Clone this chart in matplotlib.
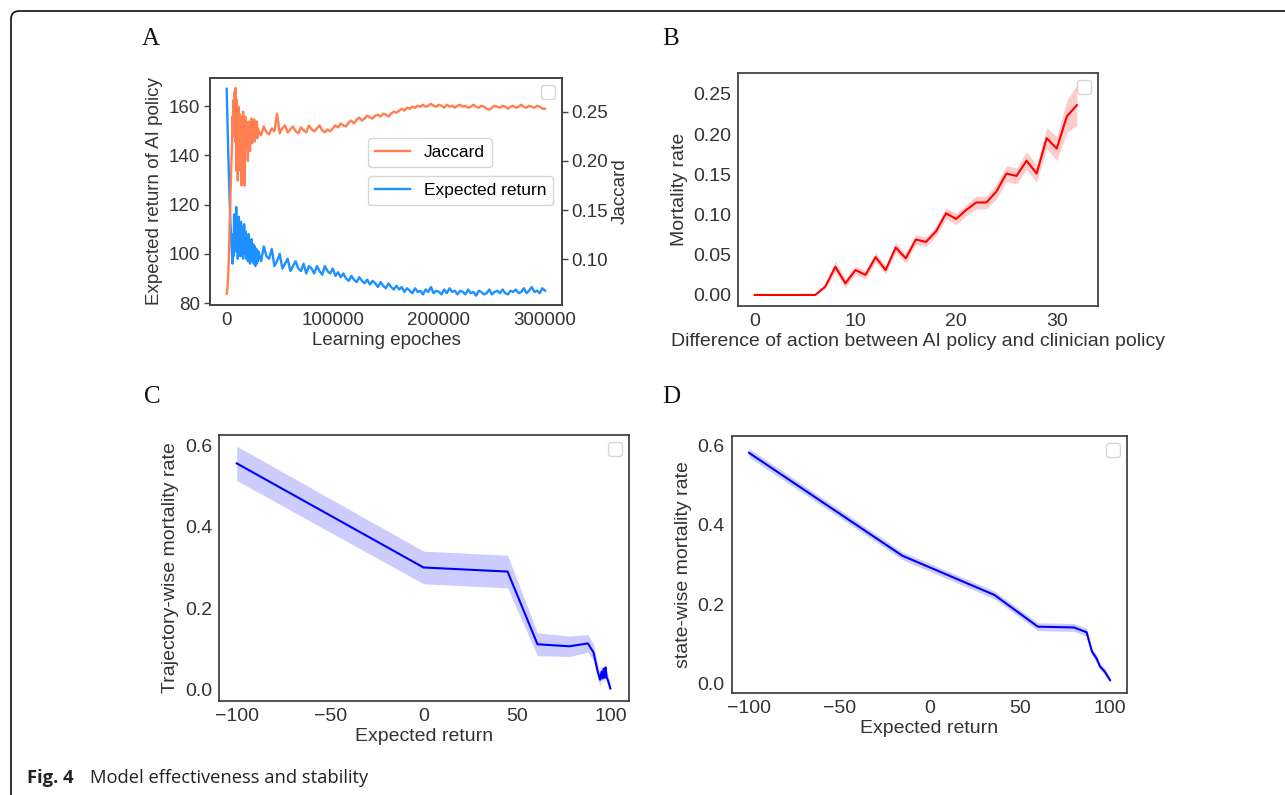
""" Fig. 4 - model effectiveness and stability """
import numpy as np
import matplotlib
matplotlib.use("Agg")
from matplotlib import pyplot as plt
from matplotlib.patches import FancyBboxPatch
from matplotlib.transforms import IdentityTransform

# ---- panel A: learning curves (early part every 500 epochs, then every 2500) ----
return_early = [167, 158, 149, 141, 133, 126, 119, 113, 108, 104, 100, 96, 108, 99, 116, 104,
                110, 101, 119, 106, 113, 98, 109, 115, 103, 108, 99, 113, 105, 101, 111, 98,
                107, 112, 100, 104, 109, 98, 106, 102, 97, 108, 101, 105, 96, 103, 99, 106,
                97, 101, 104, 96, 100, 103, 95, 99, 102, 96, 100, 97]
return_late = [101, 97, 103, 99, 98, 102, 95, 97, 100, 94, 96, 98, 93, 95, 97, 94, 93, 96, 92,
               95, 94, 92, 95, 93, 91.5, 95, 93, 92, 94, 91, 92.5, 90.5, 92, 90, 89, 91, 89.5,
               88.5, 90.5, 89, 88, 89.5, 87.5, 89, 88, 86.5, 88.5, 87, 86, 88, 86.5, 85.5, 87,
               85.5, 86.5, 84.5, 86, 85, 84, 86, 84.5, 85, 83.5, 85.5, 84.5, 86.5, 84, 85, 84.5,
               83.5, 85.5, 84, 86, 84.5, 85, 83.5, 85, 84.5, 83.5, 85.5, 84, 84.5, 83, 85, 84.5,
               83.5, 84, 85.5, 83.5, 84.5, 85, 84, 85.5, 84, 83.5, 85, 84.5, 85.5, 84, 84.5, 86,
               84, 85, 86.5, 84.5, 85, 84, 86, 85]
jaccard_early = [0.065, 0.068, 0.075, 0.085, 0.10, 0.12, 0.14, 0.16, 0.18, 0.20, 0.215, 0.245,
                 0.225, 0.262, 0.235, 0.27, 0.22, 0.274, 0.19, 0.262, 0.24, 0.18, 0.255, 0.21,
                 0.248, 0.232, 0.19, 0.245, 0.175, 0.24, 0.226, 0.25, 0.20, 0.238, 0.175, 0.245,
                 0.228, 0.215, 0.236, 0.222, 0.20, 0.24, 0.229, 0.235, 0.21, 0.238, 0.222, 0.243,
                 0.218, 0.235, 0.231, 0.225, 0.242, 0.22, 0.232, 0.237, 0.226, 0.24, 0.223, 0.233]
jaccard_late = [0.231, 0.226, 0.235, 0.229, 0.227, 0.233, 0.230, 0.248, 0.228, 0.233, 0.236,
                0.229, 0.232, 0.235, 0.230, 0.228, 0.234, 0.231, 0.229, 0.236, 0.232, 0.230,
                0.233, 0.236, 0.231, 0.229, 0.232, 0.230, 0.233, 0.236, 0.234, 0.238, 0.236,
                0.235, 0.239, 0.241, 0.238, 0.242, 0.244, 0.241, 0.243, 0.246, 0.244, 0.243,
                0.246, 0.247, 0.245, 0.248, 0.247, 0.245, 0.248, 0.250, 0.249, 0.251, 0.253,
                0.251, 0.254, 0.253, 0.255, 0.254, 0.256, 0.255, 0.257, 0.255, 0.256, 0.258,
                0.256, 0.255, 0.257, 0.256, 0.254, 0.257, 0.255, 0.256, 0.254, 0.256, 0.257,
                0.255, 0.256, 0.254, 0.255, 0.257, 0.255, 0.254, 0.256, 0.255, 0.253, 0.252,
                0.254, 0.256, 0.255, 0.254, 0.256, 0.255, 0.253, 0.255, 0.256, 0.254, 0.255,
                0.257, 0.255, 0.254, 0.256, 0.255, 0.254, 0.256, 0.255, 0.253, 0.253]

# ---- panel B: mortality vs action difference ----
diff_action = list(range(33))
mort_b = [0, 0, 0, 0, 0, 0, 0, 0.0104, 0.035, 0.0145, 0.031, 0.025, 0.047, 0.031, 0.059, 0.0456,
          0.069, 0.066, 0.079, 0.1016, 0.0945, 0.1057, 0.115, 0.115, 0.1285, 0.151, 0.148,
          0.167, 0.151, 0.195, 0.182, 0.222, 0.236]
ci_b = [0, 0, 0, 0, 0, 0, 0, 0.003, 0.007, 0.005, 0.005, 0.005, 0.006, 0.005, 0.006, 0.006,
        0.006, 0.006, 0.006, 0.007, 0.007, 0.007, 0.008, 0.008, 0.009, 0.010, 0.010, 0.011,
        0.011, 0.013, 0.015, 0.020, 0.025]

# ---- panel C: trajectory-wise mortality ----
ret_c = [-100, 0, 45, 61, 78, 88, 91, 93, 94.5, 95.3, 95.8, 96.4, 97, 97.5, 98, 99, 100]
mort_c = [0.555, 0.300, 0.290, 0.112, 0.107, 0.114, 0.092, 0.05, 0.025, 0.045, 0.028, 0.052,
          0.03, 0.055, 0.032, 0.02, 0.004]
ci_c = [0.042, 0.04, 0.04, 0.028, 0.025, 0.022, 0.02, 0.018, 0.016, 0.016, 0.015, 0.015, 0.014,
        0.014, 0.013, 0.012, 0.008]

# ---- panel D: state-wise mortality ----
ret_d = [-100, -15, 0, 36, 60, 80, 87, 90, 92.5, 94.5, 96, 97, 100]
mort_d = [0.582, 0.322, 0.293, 0.223, 0.143, 0.141, 0.129, 0.08, 0.063, 0.042, 0.035, 0.03, 0.008]
ci_d = [0.011, 0.01, 0.01, 0.01, 0.01, 0.01, 0.01, 0.009, 0.009, 0.008, 0.008, 0.008, 0.006]


plt.rcParams['font.family'] = ['Liberation Sans', 'DejaVu Sans']
plt.rcParams['axes.edgecolor'] = '#444444'
plt.rcParams['axes.linewidth'] = 1.3
plt.rcParams['xtick.color'] = '#333333'
plt.rcParams['ytick.color'] = '#333333'
plt.rcParams['axes.labelcolor'] = '#333333'
plt.rcParams['legend.edgecolor'] = '#cccccc'

fig = plt.figure(figsize=(12.85, 7.95), dpi=100)
W, H = 1285.0, 795.0


def add_ax(left, top, right, bottom):
	return fig.add_axes([left / W, 1 - bottom / H, (right - left) / W, (bottom - top) / H])


def empty_legend(ax):
	ax.legend(handles=[], loc='upper right', borderpad=0.5, fancybox=True)


def style_ax(ax, fs):
	ax.tick_params(length=0, labelsize=fs, pad=5)


# panel A
axA = add_ax(210, 78, 562, 305)
x_early = 500 * np.arange(len(return_early))
x_late = 30000 + 2500 * np.arange(len(return_late))
xj_early = 500 * np.arange(len(jaccard_early))
xj_late = 30000 + 2500 * np.arange(len(jaccard_late))
l_ret, = axA.plot(np.concatenate([x_early, x_late]), return_early + return_late,
                  color='#1e90ff', lw=1.7, label='Expected return')
axA.set_xlim(-15700, 316000)
axA.set_ylim(79.2, 171.4)
axA.set_yticks([80, 100, 120, 140, 160])
axA.set_xticks([0, 100000, 200000, 300000])
axA.set_xlabel('Learning epoches', fontsize=13.5, labelpad=2)
axA.set_ylabel('Expected return of AI policy', fontsize=13.5)
axA.tick_params(axis='x', length=0, labelsize=13.5, pad=5)
axA.tick_params(axis='y', length=4, width=1, labelsize=13.5, pad=3, color='#444444')

axA2 = axA.twinx()
l_jac, = axA2.plot(np.concatenate([xj_early, xj_late]), jaccard_early + jaccard_late,
                   color='#ff7f50', lw=1.7, label='Jaccard')
axA2.set_ylim(0.0536, 0.2842)
axA2.set_yticks([0.10, 0.15, 0.20, 0.25])
axA2.set_yticklabels(['0.10', '0.15', '0.20', '0.25'])
axA2.set_ylabel('Jaccard', fontsize=13.5, labelpad=2)
axA2.tick_params(axis='y', length=4, width=1, labelsize=13.5, pad=3, color='#444444')
for s in axA2.spines.values():
	s.set_edgecolor('#444444')

leg1 = axA2.legend(handles=[l_jac], loc='upper left', bbox_to_anchor=(0.449, 0.735),
                   fontsize=12.5, borderaxespad=0)
axA2.add_artist(leg1)
leg2 = axA2.legend(handles=[l_ret], loc='upper left', bbox_to_anchor=(0.449, 0.568),
                   fontsize=12.5, borderaxespad=0)
axA2.add_artist(leg2)
empty_legend(axA2)

# panel B
axB = add_ax(738, 73, 1098, 306)
lo_b = np.array(mort_b) - np.array(ci_b)
hi_b = np.array(mort_b) + np.array(ci_b)
axB.fill_between(diff_action, lo_b, hi_b, color='red', alpha=0.2, lw=0)
axB.plot(diff_action, mort_b, color='red', lw=1.5)
axB.set_xlim(-1.67, 34.1)
axB.set_ylim(-0.0137, 0.276)
axB.set_xticks([0, 10, 20, 30])
axB.set_yticks([0, 0.05, 0.10, 0.15, 0.20, 0.25])
axB.set_yticklabels(['0.00', '0.05', '0.10', '0.15', '0.20', '0.25'])
axB.set_xlabel('Difference of action between AI policy and clinician policy', fontsize=14, labelpad=2)
axB.set_ylabel('Mortality rate', fontsize=14)
style_ax(axB, 14)
empty_legend(axB)

# panel C
axC = add_ax(219, 435, 629, 701)
lo_c = np.array(mort_c) - np.array(ci_c)
hi_c = np.array(mort_c) + np.array(ci_c)
axC.fill_between(ret_c, lo_c, hi_c, color='blue', alpha=0.2, lw=0)
axC.plot(ret_c, mort_c, color='blue', lw=1.5)
axC.set_xlim(-109.5, 110)
axC.set_ylim(-0.027, 0.6245)
axC.set_xticks([-100, -50, 0, 50, 100])
axC.set_yticks([0.0, 0.2, 0.4, 0.6])
axC.set_xlabel('Expected return', fontsize=14, labelpad=2)
axC.set_ylabel('Trajectory-wise mortality rate', fontsize=14)
style_ax(axC, 14)
empty_legend(axC)

# panel D
axD = add_ax(731.7, 436, 1127, 693)
lo_d = np.array(mort_d) - np.array(ci_d)
hi_d = np.array(mort_d) + np.array(ci_d)
axD.fill_between(ret_d, lo_d, hi_d, color='blue', alpha=0.2, lw=0)
axD.plot(ret_d, mort_d, color='blue', lw=1.5)
axD.set_xlim(-109.6, 109.4)
axD.set_ylim(-0.0245, 0.6245)
axD.set_xticks([-100, -50, 0, 50, 100])
axD.set_yticks([0.0, 0.2, 0.4, 0.6])
axD.set_xlabel('Expected return', fontsize=14, labelpad=2)
axD.set_ylabel('state-wise mortality rate', fontsize=14)
style_ax(axD, 14)
empty_legend(axD)

# panel letters
for lab, px, py in [('A', 142, 39), ('B', 662, 39), ('C', 144, 397), ('D', 662, 397)]:
	fig.text(px / W, 1 - py / H, lab, family=['Liberation Serif', 'DejaVu Serif'],
	         fontsize=18, va='center', ha='left', color='#111111')

# caption
fig.text(27 / W, 1 - 778 / H, 'Fig. 4', family=['Open Sans', 'DejaVu Sans'],
         fontweight='bold', fontsize=13.2, va='center', ha='left', color='#222222')
fig.text(90 / W, 1 - 778 / H, 'Model effectiveness and stability', family=['Open Sans', 'DejaVu Sans'],
         fontsize=13.2, va='center', ha='left', color='#222222')

# page frame with rounded corner
frame = FancyBboxPatch((11, -40), 1400, H - 11 + 40, boxstyle='round,pad=0,rounding_size=8',
                       transform=IdentityTransform(), fill=False, lw=1.3, ec='#222222')
fig.add_artist(frame)

fig.savefig('out.png', dpi=100)
